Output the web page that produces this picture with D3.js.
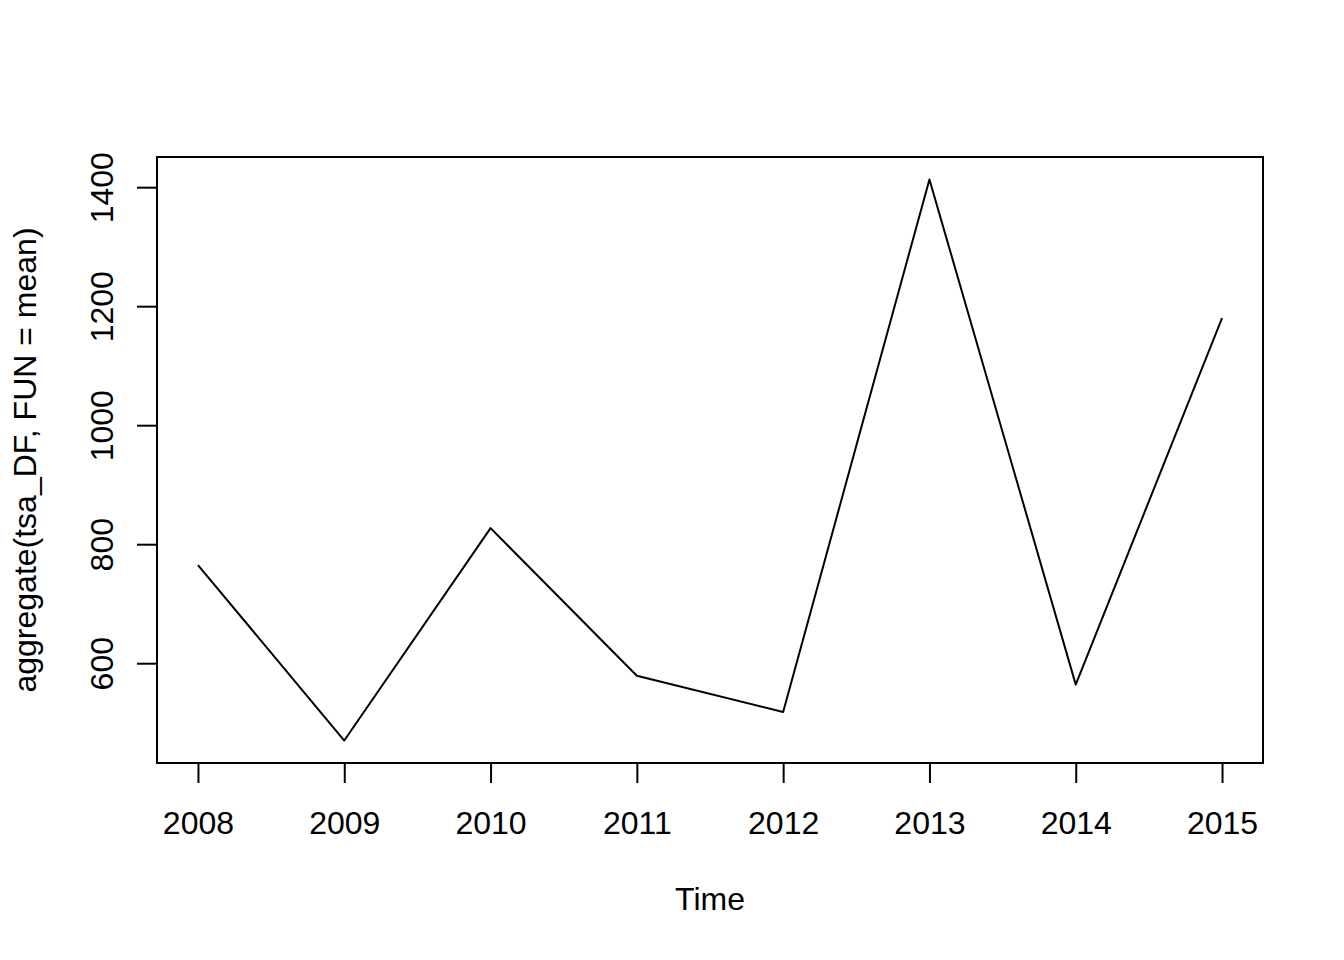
<!DOCTYPE html>
<html>
<head>
<meta charset="utf-8">
<script src="https://cdn.jsdelivr.net/npm/d3@7"></script>
<style>
  body { margin: 0; background: #fff; }
  text { font-family: "Liberation Sans", Arial, sans-serif; fill: #000; }
</style>
</head>
<body>
<script>
var years = [2008, 2009, 2010, 2011, 2012, 2013, 2014, 2015];
var values = [765, 470, 827, 579, 518, 1413, 564, 1180];
var yTicks = [600, 800, 1000, 1200, 1400];

var width = 1344,
    height = 960,
    plotLeft = 157, plotRight = 1263,
    plotTop = 157, plotBottom = 763,
    fontSize = 32;

// R style: extend range by 4% on each side
function pad(ext) {
  var d = (ext[1] - ext[0]) * 0.04;
  return [ext[0] - d, ext[1] + d];
}

var x = d3.scaleLinear()
    .domain(pad(d3.extent(years)))
    .range([plotLeft, plotRight]);

var y = d3.scaleLinear()
    .domain(pad(d3.extent(values)))
    .range([plotBottom, plotTop]);

var svg = d3.select("body").append("svg")
    .attr("width", width)
    .attr("height", height);

var data = years.map(function(d, i) { return {year: d, value: values[i]}; });

var line = d3.line()
    .x(function(d) { return x(d.year); })
    .y(function(d) { return y(d.value); });

svg.append("path")
    .datum(data)
    .attr("fill", "none")
    .attr("stroke", "#000")
    .attr("stroke-width", 2)
    .attr("stroke-linejoin", "round")
    .attr("d", line);

// frame
svg.append("rect")
    .attr("x", plotLeft)
    .attr("y", plotTop)
    .attr("width", plotRight - plotLeft)
    .attr("height", plotBottom - plotTop)
    .attr("fill", "none")
    .attr("stroke", "#000")
    .attr("stroke-width", 2);

// x axis
var xAxis = d3.axisBottom(x)
    .tickValues(years)
    .tickFormat(d3.format("d"))
    .tickSize(20)
    .tickPadding(28);

var gx = svg.append("g")
    .attr("transform", "translate(0," + plotBottom + ")")
    .call(xAxis);
gx.select(".domain").remove();
gx.selectAll(".tick line").attr("stroke-width", 2);
gx.selectAll(".tick text")
    .attr("font-size", fontSize)
    .attr("font-family", "Liberation Sans, Arial, sans-serif");

// y axis
var yAxis = d3.axisLeft(y)
    .tickValues(yTicks)
    .tickFormat(d3.format("d"))
    .tickSize(20)
    .tickPadding(0);

var gy = svg.append("g")
    .attr("transform", "translate(" + plotLeft + ",0)")
    .call(yAxis);
gy.select(".domain").remove();
gy.selectAll(".tick line").attr("stroke-width", 2);
gy.selectAll(".tick text")
    .attr("font-size", fontSize)
    .attr("font-family", "Liberation Sans, Arial, sans-serif")
    .attr("x", null)
    .attr("dy", null)
    .attr("text-anchor", "middle")
    .attr("transform", "translate(-44,0) rotate(-90)");

// axis titles
svg.append("text")
    .attr("x", (plotLeft + plotRight) / 2)
    .attr("y", 910)
    .attr("text-anchor", "middle")
    .attr("font-size", fontSize)
    .text("Time");

svg.append("text")
    .attr("transform", "translate(36," + (plotTop + plotBottom) / 2 + ") rotate(-90)")
    .attr("text-anchor", "middle")
    .attr("font-size", fontSize)
    .text("aggregate(tsa_DF, FUN = mean)");
</script>
</body>
</html>
